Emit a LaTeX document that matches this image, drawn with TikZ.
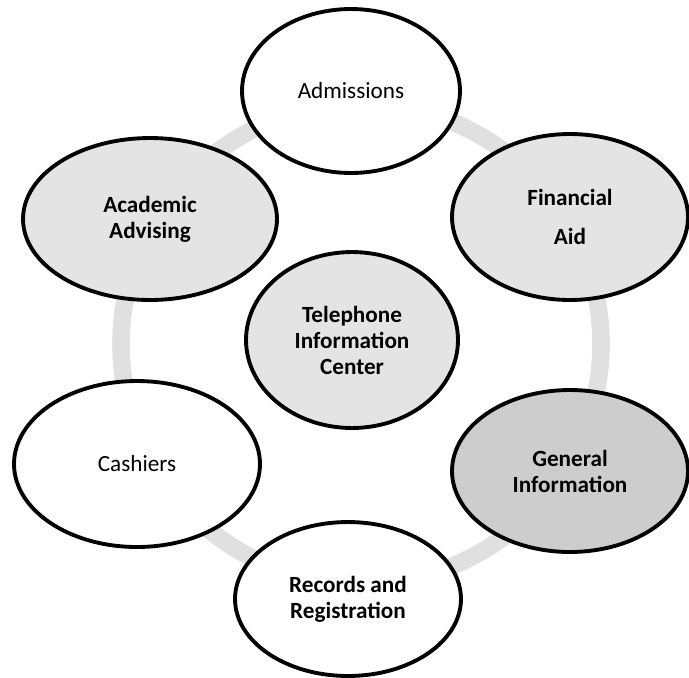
\documentclass[tikz,border=0pt]{standalone}
\usepackage{fontspec}
\setmainfont{Carlito}
\usepackage{tikz}
\usetikzlibrary{shapes.geometric}
\definecolor{ringgray}{HTML}{E0E0E0}
\definecolor{lightfill}{HTML}{E4E4E4}
\definecolor{darkfill}{HTML}{CDCDCD}

\begin{document}
\begin{tikzpicture}[
          x=0.02cm, y=-0.02cm,
          every node/.style={ellipse, draw, line width=2.2pt, align=center,
                             inner sep=0pt, font=\fontsize{13.2}{14.8}\selectfont},
          office/.style={fill=white},
          shaded/.style={fill=lightfill, font=\fontsize{13.2}{14.8}\selectfont\bfseries},
          darkshaded/.style={fill=darkfill, font=\fontsize{13.2}{14.8}\selectfont\bfseries},
          ring/.style={draw=ringgray, line width=10pt}
        ]
        \useasboundingbox (0,0) rectangle (689,677);
        \coordinate (hub) at (361,344);
        \draw [ring] (hub) circle (240);
        \node [office, minimum width=4.36cm, minimum height=3.28cm] (adm) at (351,91) {Admissions};
        \node [shaded, minimum width=4.72cm, minimum height=3.32cm] (fin) at (570,217) {Financial\\[7pt]Aid};
        \node [shaded, minimum width=5.08cm, minimum height=3.24cm] (acad) at (150,219) {Academic\\Advising};
        \node [shaded, minimum width=4.24cm, minimum height=3.52cm] (tel) at (352,340) {Telephone\\Information\\Center};
        \node [office, minimum width=4.92cm, minimum height=3.32cm] (cash) at (137,464) {Cashiers};
        \node [darkshaded, minimum width=4.72cm, minimum height=3.24cm] (geninfo) at (570,471) {General\\Information};
        \node [office, minimum width=4.52cm, minimum height=3.08cm, font=\fontsize{13.2}{14.8}\selectfont\bfseries] (rec) at (348,599) {Records and\\Registration};
\end{tikzpicture}
\end{document}
